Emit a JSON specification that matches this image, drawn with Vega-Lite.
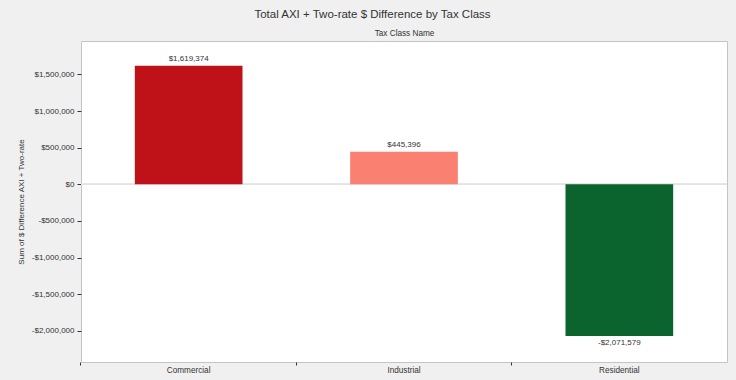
{
  "$schema": "https://vega.github.io/schema/vega-lite/v6.json",
  "width": 646,
  "height": 321,
  "autosize": {"type": "none"},
  "padding": {"left": 81, "top": 41, "right": 9, "bottom": 18},
  "background": "#f0f0f0",
  "title": {
    "text": "Total AXI  +  Two-rate $ Difference by Tax Class",
    "anchor": "middle",
    "frame": "bounds",
    "font": "Liberation Sans",
    "fontSize": 11.5,
    "fontWeight": "normal",
    "color": "#333333",
    "offset": 8
  },
  "data": {
    "values": [
      {"Tax Class Name": "Commercial", "Difference": 1619374},
      {"Tax Class Name": "Industrial", "Difference": 445396},
      {"Tax Class Name": "Residential", "Difference": -2071579}
    ]
  },
  "layer": [
    {
      "mark": {"type": "rule", "color": "#e3e3e3", "strokeWidth": 1.5},
      "encoding": {"y": {"datum": 0, "type": "quantitative"}}
    },
    {
      "mark": {"type": "bar"},
      "encoding": {
        "x": {
          "field": "Tax Class Name",
          "type": "nominal",
          "sort": null,
          "scale": {"paddingInner": 0.5, "paddingOuter": 0.25},
          "axis": {
            "orient": "bottom",
            "title": null,
            "labelAngle": 0,
            "labelFont": "Liberation Sans",
            "labelFontSize": 8.2,
            "labelColor": "#333333",
            "labelPadding": 1,
            "bandPosition": -0.5,
            "tickSize": 3,
            "tickColor": "#333333",
            "domain": false
          }
        },
        "y": {
          "field": "Difference",
          "type": "quantitative",
          "scale": {"domain": [-2426000, 1956000], "nice": false, "zero": false},
          "axis": {
            "title": "Sum of $ Difference AXI  +  Two-rate",
            "titleFont": "Liberation Sans",
            "titleFontSize": 8,
            "titleFontWeight": "normal",
            "titleColor": "#333333",
            "titlePadding": 6,
            "values": [-2000000, -1500000, -1000000, -500000, 0, 500000, 1000000, 1500000],
            "format": "$,.0f",
            "labelFont": "Liberation Sans",
            "labelFontSize": 8,
            "labelColor": "#333333",
            "labelPadding": 3,
            "tickSize": 4,
            "tickColor": "#333333",
            "domain": false,
            "grid": false
          }
        },
        "color": {
          "field": "Tax Class Name",
          "type": "nominal",
          "scale": {
            "domain": ["Commercial", "Industrial", "Residential"],
            "range": ["#be1218", "#fa8072", "#0b632d"]
          },
          "legend": null
        }
      }
    },
    {
      "transform": [{"filter": "datum.Difference > 0"}],
      "mark": {"type": "text", "baseline": "bottom", "dy": -3, "font": "Liberation Sans", "fontSize": 8, "color": "#333333"},
      "encoding": {
        "x": {
          "field": "Tax Class Name",
          "type": "nominal",
          "sort": null,
          "axis": {
            "orient": "top",
            "title": "Tax Class Name",
            "titleFont": "Liberation Sans",
            "titleFontSize": 8.2,
            "titleFontWeight": "normal",
            "titleColor": "#333333",
            "titlePadding": 4,
            "labels": false,
            "ticks": false,
            "domain": false
          }
        },
        "y": {"field": "Difference", "type": "quantitative"},
        "text": {"field": "Difference", "type": "quantitative", "format": "$,.0f"}
      }
    },
    {
      "transform": [{"filter": "datum.Difference < 0"}],
      "mark": {"type": "text", "baseline": "top", "dy": 3, "font": "Liberation Sans", "fontSize": 8, "color": "#333333"},
      "encoding": {
        "x": {"field": "Tax Class Name", "type": "nominal", "sort": null, "axis": null},
        "y": {"field": "Difference", "type": "quantitative"},
        "text": {"field": "Difference", "type": "quantitative", "format": "$,.0f"}
      }
    }
  ],
  "resolve": {"axis": {"x": "independent"}},
  "config": {
    "view": {"fill": "#ffffff", "stroke": "#c4c4c4", "strokeWidth": 1},
    "locale": {
      "number": {
        "decimal": ".",
        "thousands": ",",
        "grouping": [3],
        "currency": ["$", ""],
        "minus": "-"
      }
    }
  }
}
